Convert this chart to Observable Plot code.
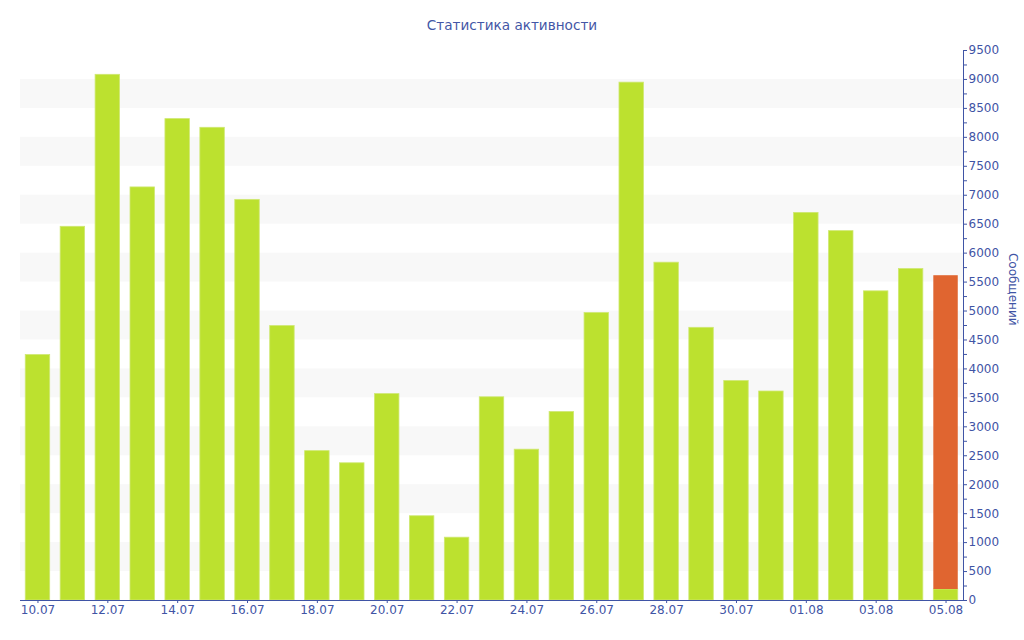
<!DOCTYPE html>
<html>
<head>
<meta charset="utf-8">
<script src="https://cdn.jsdelivr.net/npm/d3@7"></script>
<script src="https://cdn.jsdelivr.net/npm/@observablehq/plot@0.6"></script>
<style>
  body { margin: 0; background: #fff; font-family: "DejaVu Sans", sans-serif; }
  #title { height: 40px; line-height: 50px; text-align: center; font-size: 13.6px; color: #4356a6; }
</style>
</head>
<body>
<div id="title">Статистика активности</div>
<div id="chart"></div>
<script>
const dates = ["10.07","11.07","12.07","13.07","14.07","15.07","16.07","17.07","18.07","19.07","20.07","21.07","22.07","23.07","24.07","25.07","26.07","27.07","28.07","29.07","30.07","31.07","01.08","02.08","03.08","04.08","05.08"];
const messages = [4240,6455,9080,7135,8315,8165,6920,4740,2580,2370,3565,1455,1085,3510,2605,3255,4965,8945,5835,4710,3790,3610,6695,6380,5340,5725,5610];
const lastDayBase = 190; // green part of the current (last) day
const yTicks = d3.range(0, 9501, 500);
const yMinorTicks = d3.range(250, 9500, 500);
const bandStarts = d3.range(500, 9001, 1000);

const green = "#bce12f";
const orange = "#e06530";
const axisColor = "#3f54a5";

const lastIdx = dates.length - 1;
const greenRows = dates.map((d, i) => ({date: d, y1: 0, y2: i === lastIdx ? lastDayBase : messages[i]}));
const orangeRows = [{date: dates[lastIdx], y1: lastDayBase, y2: messages[lastIdx]}];

const chart = Plot.plot({
  width: 1024,
  height: 600,
  marginTop: 10,
  marginBottom: 40,
  marginLeft: 20,
  marginRight: 61,
  style: {fontFamily: "DejaVu Sans, sans-serif", fontSize: "12px", color: axisColor, background: "#fff"},
  x: {domain: dates, paddingInner: 0.3, paddingOuter: 0.15, round: false},
  y: {domain: [0, 9500]},
  marks: [
    Plot.rect(bandStarts, {y1: d => d, y2: d => d + 500, fill: "#f8f8f8"}),
    Plot.barY(greenRows, {x: "date", y1: "y1", y2: "y2", fill: green, stroke: "#cfe872", strokeWidth: 0.8}),
    Plot.barY(orangeRows, {x: "date", y1: "y1", y2: "y2", fill: orange}),
    Plot.axisX({ticks: dates.filter((d, i) => i % 2 === 0), tickSize: 3, tickPadding: 2, label: null}),
    Plot.axisY({anchor: "right", ticks: yTicks, tickSize: 3, tickPadding: 2, tickFormat: d => String(d), label: null}),
    Plot.axisY({anchor: "right", ticks: yMinorTicks, tickSize: 3, tickFormat: () => "", label: null}),
    Plot.frame({anchor: "right", stroke: axisColor}),
    Plot.frame({anchor: "bottom", stroke: axisColor}),
    Plot.text(["Сообщений"], {frameAnchor: "right", dx: 49, rotate: 90, fill: axisColor, fontSize: 12})
  ]
});
document.getElementById("chart").appendChild(chart);
</script>
</body>
</html>
